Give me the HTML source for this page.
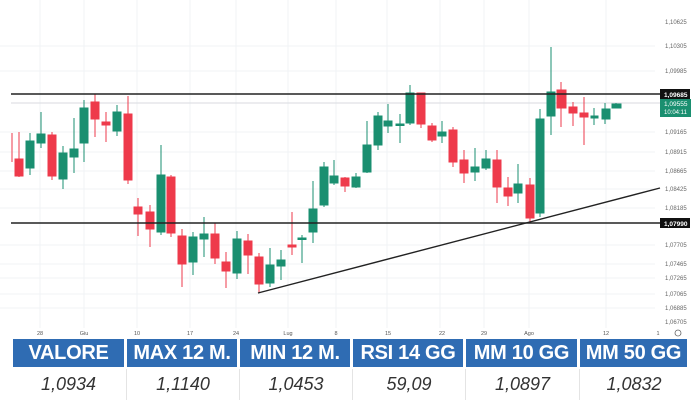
<!DOCTYPE html>
<html><head><meta charset="utf-8"><style>
html,body{margin:0;padding:0;background:#fff;width:700px;height:400px;overflow:hidden;font-family:"Liberation Sans",sans-serif}
svg{position:absolute;left:0;top:0}
.h{position:absolute;top:339px;height:28px;background:#2f6cb3;color:#fff;font-weight:bold;font-size:20px;line-height:29px;text-align:center;white-space:nowrap;letter-spacing:-0.3px}
.v{position:absolute;top:369px;height:31px;border-left:1px solid #e4e4e4;color:#333;font-style:italic;font-size:18px;line-height:31px;text-align:center}
</style></head><body>
<svg width="700" height="400" xmlns="http://www.w3.org/2000/svg">
<g stroke="#f1f3f6" stroke-width="1">
<line x1="40" y1="0" x2="40" y2="328"/><line x1="84" y1="0" x2="84" y2="328"/><line x1="137" y1="0" x2="137" y2="328"/><line x1="190" y1="0" x2="190" y2="328"/><line x1="236" y1="0" x2="236" y2="328"/><line x1="288" y1="0" x2="288" y2="328"/><line x1="336" y1="0" x2="336" y2="328"/><line x1="387" y1="0" x2="387" y2="328"/><line x1="440" y1="0" x2="440" y2="328"/><line x1="484" y1="0" x2="484" y2="328"/><line x1="529" y1="0" x2="529" y2="328"/><line x1="606" y1="0" x2="606" y2="328"/>
<line x1="0" y1="46" x2="655" y2="46"/><line x1="0" y1="71" x2="655" y2="71"/><line x1="0" y1="132" x2="655" y2="132"/><line x1="0" y1="152" x2="655" y2="152"/><line x1="0" y1="171" x2="655" y2="171"/><line x1="0" y1="189" x2="655" y2="189"/><line x1="0" y1="208" x2="655" y2="208"/><line x1="0" y1="245" x2="655" y2="245"/><line x1="0" y1="264" x2="655" y2="264"/><line x1="0" y1="278" x2="655" y2="278"/><line x1="0" y1="294" x2="655" y2="294"/><line x1="0" y1="308" x2="655" y2="308"/>
</g>
<line x1="11" y1="103" x2="660" y2="103" stroke="#d8dadf" stroke-width="1"/>
<g id="c" stroke-width="1">
<!-- red -->
<g fill="#ee3a4b" stroke="#ee3a4b">
<line x1="12" y1="133" x2="12" y2="162"/>
<line x1="19" y1="132" x2="19" y2="177"/><rect x="15" y="159" width="8" height="17"/>
<line x1="52" y1="132" x2="52" y2="180"/><rect x="48" y="135" width="8" height="41"/>
<line x1="95" y1="94" x2="95" y2="137"/><rect x="91" y="102" width="8" height="17"/>
<line x1="106" y1="112" x2="106" y2="142"/><rect x="102" y="122" width="8" height="3"/>
<line x1="128" y1="96" x2="128" y2="184"/><rect x="124" y="114" width="8" height="66"/>
<line x1="138" y1="198" x2="138" y2="236"/><rect x="134" y="207" width="8" height="7"/>
<line x1="150" y1="205" x2="150" y2="247"/><rect x="146" y="212" width="8" height="17"/>
<line x1="171" y1="175" x2="171" y2="237"/><rect x="167" y="177" width="8" height="56"/>
<line x1="182" y1="229" x2="182" y2="287"/><rect x="178" y="236" width="8" height="28"/>
<line x1="215" y1="223" x2="215" y2="264"/><rect x="211" y="234" width="8" height="24"/>
<line x1="226" y1="252" x2="226" y2="288"/><rect x="222" y="262" width="8" height="9"/>
<line x1="248" y1="234" x2="248" y2="274"/><rect x="244" y="241" width="8" height="14"/>
<line x1="259" y1="253" x2="259" y2="293"/><rect x="255" y="257" width="8" height="27"/>
<line x1="292" y1="212" x2="292" y2="255"/><rect x="288" y="245" width="8" height="2"/>
<line x1="345" y1="177" x2="345" y2="192"/><rect x="341" y="178" width="8" height="8"/>
<line x1="421" y1="93" x2="421" y2="128"/><rect x="417" y="93" width="8" height="31"/>
<line x1="432" y1="123" x2="432" y2="142"/><rect x="428" y="126" width="8" height="14"/>
<line x1="453" y1="127" x2="453" y2="167"/><rect x="449" y="130" width="8" height="32"/>
<line x1="464" y1="150" x2="464" y2="183"/><rect x="460" y="160" width="8" height="13"/>
<line x1="497" y1="150" x2="497" y2="203"/><rect x="493" y="160" width="8" height="27"/>
<line x1="508" y1="177" x2="508" y2="206"/><rect x="504" y="188" width="8" height="8"/>
<line x1="530" y1="178" x2="530" y2="222"/><rect x="526" y="185" width="8" height="33"/>
<line x1="561" y1="82" x2="561" y2="127"/><rect x="557" y="90" width="9" height="18"/>
<line x1="573" y1="102" x2="573" y2="126"/><rect x="569" y="107" width="8" height="6"/>
<line x1="584" y1="97" x2="584" y2="145"/><rect x="580" y="113" width="8" height="4"/>
</g>
<g fill="#1a8f70" stroke="#1a8f70">
<line x1="30" y1="133" x2="30" y2="175"/><rect x="26" y="141" width="8" height="27"/>
<line x1="41" y1="112" x2="41" y2="148"/><rect x="37" y="134" width="8" height="9"/>
<line x1="63" y1="146" x2="63" y2="189"/><rect x="59" y="153" width="8" height="26"/>
<line x1="74" y1="118" x2="74" y2="173"/><rect x="70" y="149" width="8" height="8"/>
<line x1="84" y1="100" x2="84" y2="162"/><rect x="80" y="108" width="8" height="35"/>
<line x1="117" y1="105" x2="117" y2="136"/><rect x="113" y="112" width="8" height="19"/>
<line x1="161" y1="145" x2="161" y2="235"/><rect x="157" y="175" width="8" height="57"/>
<line x1="193" y1="232" x2="193" y2="275"/><rect x="189" y="237" width="8" height="25"/>
<line x1="204" y1="217" x2="204" y2="257"/><rect x="200" y="234" width="8" height="5"/>
<line x1="237" y1="231" x2="237" y2="279"/><rect x="233" y="239" width="8" height="34"/>
<line x1="270" y1="248" x2="270" y2="287"/><rect x="266" y="265" width="8" height="18"/>
<line x1="281" y1="250" x2="281" y2="280"/><rect x="277" y="260" width="8" height="6"/>
<line x1="302" y1="235" x2="302" y2="263"/><rect x="298" y="238" width="8" height="1.5"/>
<line x1="313" y1="181" x2="313" y2="243"/><rect x="309" y="209" width="8" height="23"/>
<line x1="324" y1="162" x2="324" y2="207"/><rect x="320" y="167" width="8" height="38"/>
<line x1="334" y1="160" x2="334" y2="185"/><rect x="330" y="176" width="8" height="7"/>
<line x1="356" y1="173" x2="356" y2="188"/><rect x="352" y="177" width="8" height="10"/>
<line x1="367" y1="121" x2="367" y2="173"/><rect x="363" y="145" width="8" height="27"/>
<line x1="378" y1="112" x2="378" y2="150"/><rect x="374" y="116" width="8" height="29"/>
<line x1="388" y1="104" x2="388" y2="133"/><rect x="384" y="121" width="8" height="5"/>
<line x1="400" y1="114" x2="400" y2="143"/><rect x="396" y="124" width="8" height="1.5"/>
<line x1="410" y1="85" x2="410" y2="125"/><rect x="406" y="93" width="8" height="30"/>
<line x1="442" y1="121" x2="442" y2="143"/><rect x="438" y="132" width="8" height="4"/>
<line x1="475" y1="148" x2="475" y2="181"/><rect x="471" y="167" width="8" height="5"/>
<line x1="486" y1="150" x2="486" y2="170"/><rect x="482" y="159" width="8" height="9"/>
<line x1="518" y1="164" x2="518" y2="203"/><rect x="514" y="184" width="8" height="9"/>
<line x1="540" y1="109" x2="540" y2="217"/><rect x="536" y="119" width="8" height="94"/>
<line x1="551" y1="47" x2="551" y2="135"/><rect x="547" y="92" width="8" height="24"/>
<line x1="594" y1="108" x2="594" y2="125"/><rect x="591" y="116" width="7" height="2"/>
<line x1="605" y1="103" x2="605" y2="124"/><rect x="602" y="109" width="8" height="10"/>
<line x1="616" y1="103" x2="616" y2="108"/><rect x="612" y="104" width="9" height="4"/>
</g>
</g>
<line x1="11" y1="94" x2="660" y2="94" stroke="#222" stroke-width="1.6"/>
<line x1="11" y1="223" x2="660" y2="223" stroke="#222" stroke-width="1.6"/>
<line x1="258" y1="293" x2="660" y2="188" stroke="#222" stroke-width="1.4"/>
<g font-size="6" fill="#666" font-family="Liberation Sans,sans-serif">
<text x="665" y="24">1,10625</text><text x="665" y="48">1,10305</text><text x="665" y="73">1,09985</text>
<text x="665" y="134">1,09165</text><text x="665" y="154">1,08915</text><text x="665" y="173">1,08665</text>
<text x="665" y="191">1,08425</text><text x="665" y="210">1,08185</text><text x="665" y="247">1,07705</text>
<text x="665" y="266">1,07465</text><text x="665" y="280">1,07265</text><text x="665" y="296">1,07065</text>
<text x="665" y="310">1,06885</text><text x="665" y="324">1,06705</text>
</g>
<rect x="660" y="89" width="30" height="10" fill="#111"/>
<text x="664" y="97" font-size="6.5" fill="#fff" font-weight="bold">1,09685</text>
<rect x="660" y="99" width="31" height="18" fill="#1a8f70"/>
<text x="664" y="106" font-size="6.5" fill="#fff">1,09555</text>
<text x="664" y="114" font-size="6" fill="#fff">10:04:11</text>
<rect x="660" y="218" width="30" height="10" fill="#111"/>
<text x="664" y="226" font-size="6.5" fill="#fff" font-weight="bold">1,07990</text>
<g font-size="5.5" fill="#555" text-anchor="middle">
<text x="40" y="335">28</text><text x="84" y="335">Giu</text><text x="137" y="335">10</text><text x="190" y="335">17</text><text x="236" y="335">24</text><text x="288" y="335">Lug</text><text x="336" y="335">8</text><text x="388" y="335">15</text><text x="442" y="335">22</text><text x="484" y="335">29</text><text x="529" y="335">Ago</text><text x="606" y="335">12</text><text x="658" y="335">1</text>
</g>
<circle cx="678" cy="333" r="3" fill="none" stroke="#666" stroke-width="0.8"/>
</svg>
<div class="h" style="left:13px;width:111px">VALORE</div>
<div class="h" style="left:127px;width:110px">MAX 12 M.</div>
<div class="h" style="left:240px;width:110px">MIN 12 M.</div>
<div class="h" style="left:353px;width:110px">RSI 14 GG</div>
<div class="h" style="left:466px;width:111px">MM 10 GG</div>
<div class="h" style="left:580px;width:107px">MM 50 GG</div>
<div class="v" style="left:13px;width:111px;border-left:none">1,0934</div>
<div class="v" style="left:126px;width:112px">1,1140</div>
<div class="v" style="left:239px;width:112px">1,0453</div>
<div class="v" style="left:352px;width:112px">59,09</div>
<div class="v" style="left:465px;width:113px">1,0897</div>
<div class="v" style="left:579px;width:108px">1,0832</div>
</body></html>
